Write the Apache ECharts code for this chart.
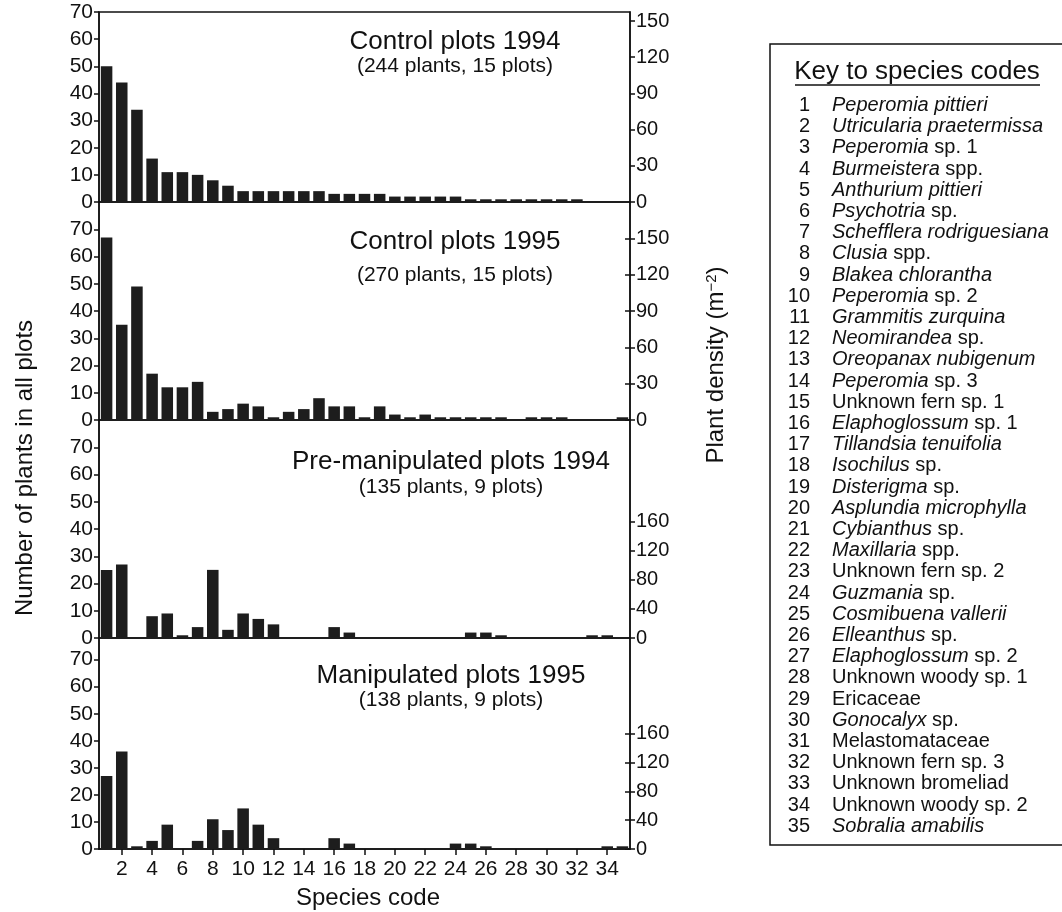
<!DOCTYPE html>
<html>
<head>
<meta charset="utf-8">
<script src="https://cdn.jsdelivr.net/npm/echarts@6/dist/echarts.min.js"></script>
<style>html,body{margin:0;padding:0;background:#fff}#c{width:1062px;height:912px}</style>
</head>
<body>
<div id="c"></div>
<script>
// ---- data ----
const categories = ['1','2','3','4','5','6','7','8','9','10','11','12','13','14','15','16','17','18','19','20','21','22','23','24','25','26','27','28','29','30','31','32','33','34','35'];
const control1994 = [50,44,34,16,11,11,10,8,6,4,4,4,4,4,4,3,3,3,3,2,2,2,2,2,1,1,1,1,1,1,1,1,0,0,0];
const control1995 = [67,35,49,17,12,12,14,3,4,6,5,1,3,4,8,5,5,1,5,2,1,2,1,1,1,1,1,0,1,1,1,0,0,0,1];
const preManip1994 = [25,27,0,8,9,1,4,25,3,9,7,5,0,0,0,4,2,0,0,0,0,0,0,0,2,2,1,0,0,0,0,0,1,1,0];
const manip1995 = [27,36,1,3,9,0,3,11,7,15,9,4,0,0,0,4,2,0,0,0,0,0,0,2,2,1,0,0,0,0,0,0,0,1,1];
const panelTitles = ['Control plots 1994','Control plots 1995','Pre-manipulated plots 1994','Manipulated plots 1995'];
const panelSubtitles = ['(244 plants, 15 plots)','(270 plants, 15 plots)','(135 plants, 9 plots)','(138 plants, 9 plots)'];
const leftTicks = [0,10,20,30,40,50,60,70];
const rightTicks15 = [0,30,60,90,120,150];
const rightTicks9 = [0,40,80,120,160];
const keyNumbers = ['1','2','3','4','5','6','7','8','9','10','11','12','13','14','15','16','17','18','19','20','21','22','23','24','25','26','27','28','29','30','31','32','33','34','35'];
// [italic part, plain part]
const keyNames = [
  ['Peperomia pittieri',''],['Utricularia praetermissa',''],['Peperomia',' sp. 1'],['Burmeistera',' spp.'],
  ['Anthurium pittieri',''],['Psychotria',' sp.'],['Schefflera rodriguesiana',''],['Clusia',' spp.'],
  ['Blakea chlorantha',''],['Peperomia',' sp. 2'],['Grammitis zurquina',''],['Neomirandea',' sp.'],
  ['Oreopanax nubigenum',''],['Peperomia',' sp. 3'],['','Unknown fern sp. 1'],['Elaphoglossum',' sp. 1'],
  ['Tillandsia tenuifolia',''],['Isochilus',' sp.'],['Disterigma',' sp.'],['Asplundia microphylla',''],
  ['Cybianthus',' sp.'],['Maxillaria',' spp.'],['','Unknown fern sp. 2'],['Guzmania',' sp.'],
  ['Cosmibuena vallerii',''],['Elleanthus',' sp.'],['Elaphoglossum',' sp. 2'],['','Unknown woody sp. 1'],
  ['','Ericaceae'],['Gonocalyx',' sp.'],['','Melastomataceae'],['','Unknown fern sp. 3'],
  ['','Unknown bromeliad'],['','Unknown woody sp. 2'],['Sobralia amabilis','']
];

// ---- layout ----
const FONT = '"Liberation Sans", Arial, sans-serif';
const seriesData = [control1994, control1995, preManip1994, manip1995];
const panels = [
  {top: 12,  height: 190, leftMax: 70, rightMax: 70*2.25, rightTicks: rightTicks15, cross: false, tx: 455, ty: 42, sy: 66},
  {top: 202, height: 218, leftMax: 80, rightMax: 80*2.25, rightTicks: rightTicks15, cross: true,  tx: 455, ty: 242, sy: 275},
  {top: 420, height: 218, leftMax: 80, rightMax: 80*3.75, rightTicks: rightTicks9,  cross: false, tx: 451, ty: 462, sy: 487},
  {top: 638, height: 211, leftMax: 78, rightMax: 78*3.75, rightTicks: rightTicks9,  cross: true,  tx: 451, ty: 676, sy: 700}
];

const grid = [], xAxis = [], yAxis = [], series = [], graphic = [];
panels.forEach((p, i) => {
  grid.push({left: 99, right: 432, top: p.top, height: p.height, show: true, borderColor: '#111', borderWidth: 1.5, backgroundColor: 'transparent'});
  const last = i === panels.length - 1;
  xAxis.push({
    type: 'category', gridIndex: i, data: categories, position: 'bottom',
    axisLine: {show: last, lineStyle: {color: '#111', width: 1.5}},
    axisTick: {show: last, alignWithLabel: true, length: 6, interval: (idx) => idx % 2 === 1, lineStyle: {color: '#111', width: 1.5}},
    axisLabel: {show: last, interval: (idx) => idx % 2 === 1, color: '#111', fontSize: 21, fontFamily: FONT, margin: 10},
    splitLine: {show: false}
  });
  yAxis.push({
    type: 'value', gridIndex: i, min: 0, max: p.leftMax, position: 'left',
    axisLine: {show: true, lineStyle: {color: '#111', width: 1.5}},
    axisTick: {show: true, length: 5, customValues: leftTicks, lineStyle: {color: '#111', width: 1.5}},
    axisLabel: {show: true, customValues: leftTicks, color: '#111', fontSize: 21, fontFamily: FONT, margin: 6},
    splitLine: {show: false}
  });
  series.push({
    type: 'bar', xAxisIndex: i, yAxisIndex: i, data: seriesData[i],
    barCategoryGap: '24%', itemStyle: {color: '#1d1d1d'}, silent: true
  });
  graphic.push({type: 'text', x: p.tx, y: p.ty, style: {text: panelTitles[i], font: '26px ' + FONT, fill: '#111', textAlign: 'center', textVerticalAlign: 'middle'}});
  graphic.push({type: 'text', x: p.tx, y: p.sy, style: {text: panelSubtitles[i], font: '21px ' + FONT, fill: '#111', textAlign: 'center', textVerticalAlign: 'middle'}});
});
panels.forEach((p, i) => {
  yAxis.push({
    type: 'value', gridIndex: i, min: 0, max: p.rightMax, position: 'right',
    axisLine: {show: true, lineStyle: {color: '#111', width: 1.5}},
    axisTick: {show: true, length: 5, customValues: p.rightTicks, lineStyle: {color: '#111', width: 1.5}},
    axisLabel: {show: true, customValues: p.rightTicks, color: '#111', fontSize: 20, fontFamily: FONT, margin: 6},
    splitLine: {show: false}
  });
  if (p.cross) {
    // inner half of the crossing tick marks
    yAxis.push({
      type: 'value', gridIndex: i, min: 0, max: p.rightMax, position: 'right',
      axisLine: {show: false},
      axisTick: {show: true, inside: true, length: 5, customValues: p.rightTicks, lineStyle: {color: '#111', width: 1.5}},
      axisLabel: {show: false},
      splitLine: {show: false}
    });
  }
});

// axis titles
graphic.push({type: 'text', x: 25, y: 468, rotation: Math.PI/2, style: {text: 'Number of plants in all plots', font: '24px ' + FONT, fill: '#111', textAlign: 'center', textVerticalAlign: 'middle'}});
graphic.push({type: 'text', x: 716, y: 365, rotation: Math.PI/2, style: {
  text: '{n|Plant density (m}{s|−2}{n|)}', textAlign: 'center', textVerticalAlign: 'middle',
  rich: {n: {font: '24px ' + FONT, fill: '#111'}, s: {font: '15px ' + FONT, fill: '#111', verticalAlign: 'top', padding: [0,0,9,0]}}
}});
graphic.push({type: 'text', x: 368, y: 898, style: {text: 'Species code', font: '24px ' + FONT, fill: '#111', textAlign: 'center', textVerticalAlign: 'middle'}});

// key box
graphic.push({type: 'rect', shape: {x: 770, y: 44, width: 320, height: 801}, style: {fill: 'none', stroke: '#111', lineWidth: 1.5}});
graphic.push({type: 'text', x: 917, y: 72, style: {text: 'Key to species codes', font: '26px ' + FONT, fill: '#111', textAlign: 'center', textVerticalAlign: 'middle'}});
graphic.push({type: 'line', shape: {x1: 795, y1: 85, x2: 1040, y2: 85}, style: {stroke: '#111', lineWidth: 1.5}});
keyNames.forEach((k, i) => {
  const y = 105.5 + i * 21.2;
  graphic.push({type: 'text', x: 810, y: y, style: {text: keyNumbers[i], font: '20px ' + FONT, fill: '#111', textAlign: 'right', textVerticalAlign: 'middle'}});
  const parts = [];
  if (k[0]) parts.push('{i|' + k[0] + '}');
  if (k[1]) parts.push('{n|' + k[1] + '}');
  graphic.push({type: 'text', x: 832, y: y, style: {
    text: parts.join(''), textAlign: 'left', textVerticalAlign: 'middle',
    rich: {i: {font: 'italic 20px ' + FONT, fill: '#111'}, n: {font: '20px ' + FONT, fill: '#111'}}
  }});
});

const chart = echarts.init(document.getElementById('c'), null, {renderer: 'canvas'});
chart.setOption({animation: false, backgroundColor: '#fff', grid, xAxis, yAxis, series, graphic});
</script>
</body>
</html>
